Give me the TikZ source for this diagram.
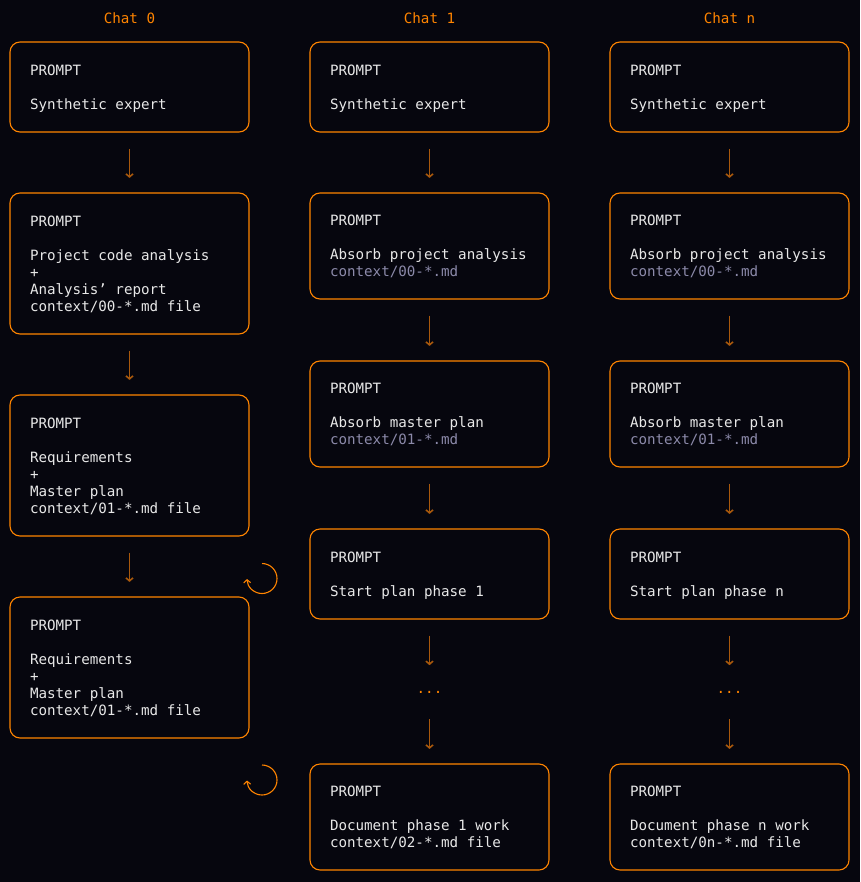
\documentclass[tikz,border=0pt]{standalone}
\usepackage{fontspec}
\setmonofont{DejaVu Sans Mono}
\usetikzlibrary{arrows.meta}
\definecolor{bg}{HTML}{06060E}
\definecolor{org}{HTML}{FF8400}
\definecolor{arr}{HTML}{A8580C}
\definecolor{txt}{HTML}{E8E8E8}
\definecolor{sub}{HTML}{8C8AAA}
\newcommand\mytop{\rule{0pt}{15pt}}
\newcommand\mybot{\rule[-4.6pt]{0pt}{4.6pt}}
\begin{document}
\begin{tikzpicture}[x=1pt,y=-1pt,
  box/.style={draw=org, line width=1.1pt, rounded corners=10pt, text width=199pt,
    inner xsep=20pt, inner ysep=0pt, align=flush left, text=txt,
    font=\ttfamily\fontsize{14.2}{17}\selectfont},
  flow/.style={draw=arr, line width=1.6pt, -{Straight Barb[length=3pt,width=7pt]},
    shorten <=16pt, shorten >=14.5pt},
  loopar/.style={draw=org, line width=1.1pt, -{Straight Barb[length=3pt,width=7pt]}},
  head/.style={text=org, font=\ttfamily\fontsize{14.2}{17}\selectfont},
  dotsn/.style={text=org, inner sep=0pt, font=\ttfamily\fontsize{14.2}{17}\selectfont},
]
\fill[bg] (0,0) rectangle (860,882);
\useasboundingbox (0,0) rectangle (860,882);

% headers
\node[head] (h0) at (129.5,18) {Chat 0};
\node[head] (h1) at (429.5,18) {Chat 1};
\node[head] (h2) at (729.5,18) {Chat n};

% column 0
\node[box, minimum height=90pt] (a0) at (129.5,87) {\mytop PROMPT\\[17pt]Synthetic expert\mybot};
\node[box, minimum height=141pt] (b0) at (129.5,263.5) {\mytop PROMPT\\[17pt]Project code analysis\\+\\Analysis’ report\\context/00-*.md file\mybot};
\node[box, minimum height=141pt] (c0) at (129.5,465.5) {\mytop PROMPT\\[17pt]Requirements\\+\\Master plan\\context/01-*.md file\mybot};
\node[box, minimum height=141pt] (d0) at (129.5,667.5) {\mytop PROMPT\\[17pt]Requirements\\+\\Master plan\\context/01-*.md file\mybot};

\draw[flow] (a0) -- (b0);
\draw[flow] (b0) -- (c0);
\draw[flow] (c0) -- (d0);

\coordinate (l1) at (262,548.5);
\coordinate (l2) at (262,750);
\draw[loopar] ([yshift=-15pt]l1) arc[start angle=-90, end angle=178, radius=15];
\draw[loopar] ([yshift=-15pt]l2) arc[start angle=-90, end angle=178, radius=15];

% columns 1 and n
\foreach \c/\x/\k/\f in {1/429.5/1/2, 2/729.5/n/n}{
  \node[box, minimum height=90pt] (a\c) at (\x,87) {\mytop PROMPT\\[17pt]Synthetic expert\mybot};
  \node[box, minimum height=106pt] (b\c) at (\x,246) {\mytop PROMPT\\[17pt]Absorb project analysis\\{\color{sub}context/00-*.md}\mybot};
  \node[box, minimum height=106pt] (c\c) at (\x,414) {\mytop PROMPT\\[17pt]Absorb master plan\\{\color{sub}context/01-*.md}\mybot};
  \node[box, minimum height=90pt] (d\c) at (\x,574) {\mytop PROMPT\\[17pt]Start plan phase \k\mybot};
  \node[dotsn, anchor=base] (m\c) at (\x,693.5) {...};
  \node[box, minimum height=106pt] (e\c) at (\x,817) {\mytop PROMPT\\[17pt]Document phase \k\ work\\context/0\f-*.md file\mybot};
  \draw[flow] (a\c) -- (b\c);
  \draw[flow] (b\c) -- (c\c);
  \draw[flow] (c\c) -- (d\c);
  \draw[flow, shorten >=26pt] (d\c) -- (m\c);
  \draw[flow, shorten <=25.5pt] (m\c) -- (e\c);
}
\end{tikzpicture}
\end{document}
